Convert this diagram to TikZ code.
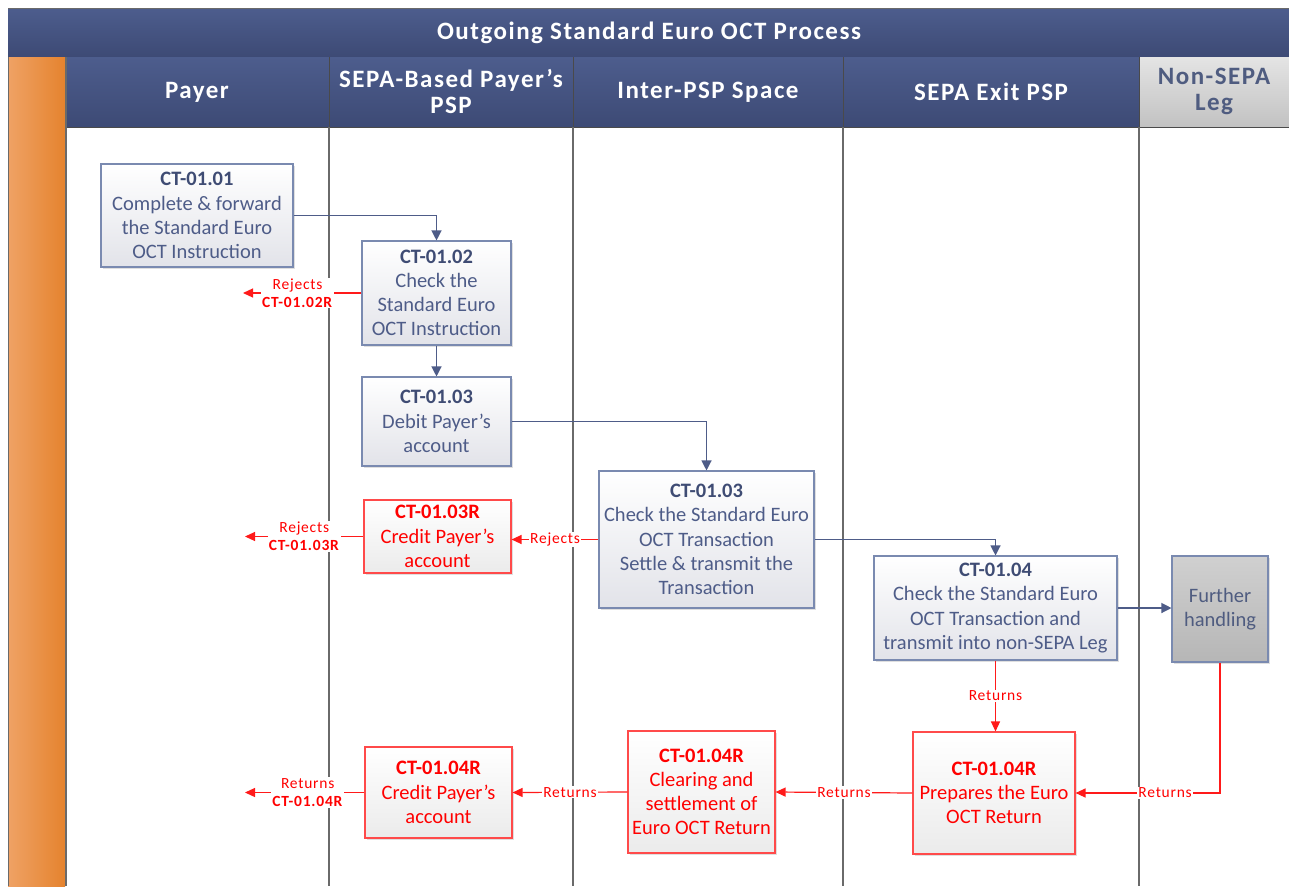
\documentclass[tikz,border=0pt]{standalone}
\usepackage{fontspec}
\setmainfont{Carlito}
\newfontfamily\hdrfont[LetterSpace=6]{Carlito}
\newfontfamily\lblfont[LetterSpace=5]{Carlito}
\usetikzlibrary{arrows.meta,shadows}

\definecolor{hdrtop}{HTML}{4D5D8D}
\definecolor{hdrbot}{HTML}{3D4A75}
\definecolor{slate}{HTML}{4E5C88}
\definecolor{slatedark}{HTML}{3F4C74}
\definecolor{boxedge}{HTML}{7A8AB0}
\definecolor{boxlow}{HTML}{E2E3E9}
\definecolor{redlow}{HTML}{EBEBEB}
\definecolor{redline}{HTML}{FF1A1A}
\definecolor{redbox}{HTML}{FF4A4A}
\definecolor{lanegray}{HTML}{6A6A6A}
\definecolor{orangeL}{HTML}{EFA265}
\definecolor{orangeR}{HTML}{E5832E}
\definecolor{greytop}{HTML}{E4E4E4}
\definecolor{greybot}{HTML}{C2C2C2}
\definecolor{greytxt}{HTML}{4F5C80}
\definecolor{handtop}{HTML}{D0D0D0}
\definecolor{handbot}{HTML}{B6B6B6}

\newcommand{\boxfont}{\fontsize{20.5}{24.2}\selectfont}
\newcommand{\hdrsize}{\hdrfont\bfseries\fontsize{25}{26}\selectfont}

\tikzset{
  sz/.style 2 args={minimum width=#1pt, minimum height=#2pt},
  proc/.style={draw=boxedge, line width=1.1pt, top color=white, bottom color=boxlow,
    text=slate, font=\boxfont, align=center, inner sep=0pt,
    drop shadow={shadow xshift=1.8pt, shadow yshift=-1.8pt, opacity=0.25}},
  rproc/.style={proc, draw=redbox, text=red, bottom color=redlow},
  hproc/.style={proc, top color=handtop, bottom color=handbot, text=greytxt},
  hdr/.style={text=white, font=\hdrsize, align=center, inner sep=0pt},
  lbl/.style={fill=white, text=red, font=\lblfont\fontsize{15.5}{18}\selectfont,
    inner sep=1pt, align=center},
  arr/.style={draw=slate, line width=1.2pt, -{Triangle[length=10pt,width=10pt]}},
  rarr/.style={draw=redline, line width=1.2pt, -{Triangle[length=10pt,width=9pt]}},
  lane/.style={draw=lanegray, line width=1.5pt},
}

\begin{document}
\begin{tikzpicture}[x=1pt,y=-1pt]
\useasboundingbox (0,0) rectangle (1289,886);
\fill[white] (0,0) rectangle (1289,886);

% title bar
\shade[top color=hdrtop, bottom color=hdrbot] (8,8) rectangle (1289,57);
\draw[lanegray, line width=1pt] (8,8) -- (1289,8);
\draw[lanegray!80!black, line width=0.8pt] (8,57) -- (1289,57);
\node[hdr] (title) at (649,33) {Outgoing Standard Euro OCT Process};

% orange side bar
\shade[left color=orangeL, right color=orangeR] (8,57) rectangle (65,886);
\draw[lanegray, line width=1pt] (8,57) -- (8,886);

% lane headers
\shade[top color=hdrtop, bottom color=hdrbot] (66,57) rectangle (1139,127);
\shade[top color=greytop, bottom color=greybot] (1139,57) rectangle (1289,127);
\draw[lanegray!70!black, line width=1pt] (66,127) -- (1289,127);
\foreach \lx in {329,573,843,1139}
  \draw[lanegray!70!black, line width=1pt] (\lx,57) -- (\lx,127);
\node[hdr] (h1) at (197,92) {Payer};
\node[hdr] (h2) at (451,91) {SEPA-Based Payer’s\\PSP};
\node[hdr] (h3) at (708,92) {Inter-PSP Space};
\node[hdr] (h4) at (991,92) {SEPA Exit PSP};
\node[hdr, text=greytxt] (h5) at (1214,91) {Non-SEPA\\Leg};

% lane separators
\draw[lanegray, line width=1.5pt] (66,57) -- (66,886);
\foreach \lx in {329,573,843,1139}
  \draw[lane] (\lx,127) -- (\lx,886);

% process steps
\node[proc, sz={192}{103}] (a) at (197,215.5)
  {\textbf{\color{slatedark}CT-01.01}\\Complete \& forward\\the Standard Euro\\OCT Instruction};
\node[proc, sz={149}{104}] (b) at (436.5,293)
  {\textbf{\color{slatedark}CT-01.02}\\Check the\\Standard Euro\\OCT Instruction};
\node[proc, sz={149}{89}] (c) at (436.5,421.5)
  {\textbf{\color{slatedark}CT-01.03}\\Debit Payer’s\\account};
\node[proc, sz={215}{137}] (d) at (706.5,539.5)
  {\textbf{\color{slatedark}CT-01.03}\\Check the Standard Euro\\OCT Transaction\\Settle \& transmit the\\Transaction};
\node[proc, sz={243}{104}] (e) at (995.5,608)
  {\textbf{\color{slatedark}CT-01.04}\\Check the Standard Euro\\OCT Transaction and\\transmit into non-SEPA Leg};
\node[hproc, sz={96}{106}] (f) at (1220,609) {Further\\handling};

% reject / return steps
\node[rproc, sz={147}{73}] (g) at (437.5,536.5)
  {\textbf{CT-01.03R}\\Credit Payer’s\\account};
\node[rproc, sz={162}{122}] (h) at (994,793)
  {\textbf{CT-01.04R}\\Prepares the Euro\\OCT Return};
\node[rproc, sz={147}{122}] (i) at (701.5,792)
  {\textbf{CT-01.04R}\\Clearing and\\settlement of\\Euro OCT Return};
\node[rproc, sz={147}{91}] (j) at (438.5,792.5)
  {\textbf{CT-01.04R}\\Credit Payer’s\\account};

% free ends of the outgoing red arrows
\coordinate (rb) at (243,293);
\coordinate (rg) at (245,536.5);
\coordinate (rj) at (245,792.5);

% forward flow
\draw[arr] (a.east) -| (b.north);
\draw[arr] (b.south) -- (c.north);
\draw[arr] (c.east) -| (d.north);
\draw[arr] (d.east) -| (e.north);
\draw[arr] (e.east) -- (e.east -| f.west);

% rejects and returns
\draw[rarr] (b.west) -- node[lbl, pos=0.54] {Rejects\\\textbf{CT-01.02R}} (rb);
\draw[rarr] (d.west) -- node[lbl] {Rejects} (d.west -| g.east);
\draw[rarr] (g.west) -- node[lbl, pos=0.5] {Rejects\\\textbf{CT-01.03R}} (rg);
\draw[rarr] (e.south) -- node[lbl] {Returns} (e.south |- h.north);
\draw[rarr] (f.south) |- node[lbl, pos=0.69] {Returns} (h.east);
\draw[rarr] (h.west) -- node[lbl] {Returns} (i.east);
\draw[rarr] (i.west) -- node[lbl] {Returns} (j.east);
\draw[rarr] (j.west) -- node[lbl, pos=0.475] {Returns\\\textbf{CT-01.04R}} (rj);
\end{tikzpicture}
\end{document}
